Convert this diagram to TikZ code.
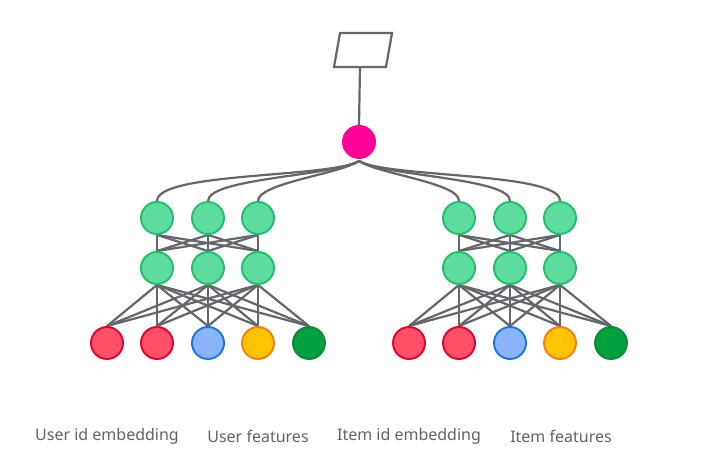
\documentclass[tikz,border=0pt]{standalone}
\usepackage{fontspec}
\setmainfont{Noto Sans}
\usetikzlibrary{backgrounds}
\definecolor{lgray}{HTML}{63666A}
\definecolor{tgray}{HTML}{5F6368}
\definecolor{gfill}{HTML}{5EDB9E}
\definecolor{gdraw}{HTML}{1DBF6A}
\definecolor{rfill}{HTML}{FF5068}
\definecolor{rdraw}{HTML}{E0002B}
\definecolor{bfill}{HTML}{8AB4F8}
\definecolor{bdraw}{HTML}{1A73E8}
\definecolor{yfill}{HTML}{FFC400}
\definecolor{ydraw}{HTML}{FA7B17}
\definecolor{dfill}{HTML}{00A03E}
\definecolor{ddraw}{HTML}{0B8A3A}
\definecolor{mag}{HTML}{FF0099}
\tikzset{
  neuron/.style={circle, minimum size=32pt, inner sep=0pt, line width=1.9pt},
  hid/.style={neuron, fill=gfill, draw=gdraw},
  inred/.style={neuron, fill=rfill, draw=rdraw},
  inblue/.style={neuron, fill=bfill, draw=bdraw},
  inyel/.style={neuron, fill=yfill, draw=ydraw},
  indark/.style={neuron, fill=dfill, draw=ddraw},
  conn/.style={draw=lgray, line width=2.2pt},
  lab/.style={text=tgray, font=\fontsize{16}{19}\selectfont, inner sep=0pt}
}
\begin{document}
\begin{tikzpicture}[x=1pt,y=-1pt]
\useasboundingbox (0,0) rectangle (714,462);
% output parallelogram
\draw[conn, line join=miter] (340,33) -- (392,33) -- (386,67) -- (334,67) -- cycle;
\coordinate (outp) at (360,67);
% magenta
\node[circle, minimum size=34pt, inner sep=0pt, fill=mag] (top) at (359,142) {};
\coordinate (conv) at (359,161);
\draw[conn] (outp) -- (top.north);
% towers
\foreach \t/\o in {L/0, R/302}{
  \foreach \i/\x in {1/157, 2/208, 3/258}{
    \node[hid] (\t a\i) at (\x+\o,218) {};
    \node[hid] (\t b\i) at (\x+\o,268) {};
  }
  \node[inred]  (\t c1) at (107+\o,343) {};
  \node[inred]  (\t c2) at (157+\o,343) {};
  \node[inblue] (\t c3) at (208+\o,343) {};
  \node[inyel]  (\t c4) at (258+\o,343) {};
  \node[indark] (\t c5) at (309+\o,343) {};
}
\begin{scope}[on background layer]
\foreach \t in {L,R}{
  \foreach \i in {1,2,3}{
    \foreach \j in {1,2,3}{
      \draw[conn] (\t a\i.south) -- (\t b\j.north);
    }
    \foreach \j in {1,...,5}{
      \draw[conn] (\t b\i.south) -- (\t c\j.north);
    }
  }
}
% curves to magenta
\draw[conn] (La1.north) .. controls (157,172) and (330,178) .. (conv);
\draw[conn] (La2.north) .. controls (208,178) and (335,176) .. (conv);
\draw[conn] (La3.north) .. controls (258,183) and (340,174) .. (conv);
\draw[conn] (Ra1.north) .. controls (460,183) and (378,174) .. (conv);
\draw[conn] (Ra2.north) .. controls (511,178) and (383,176) .. (conv);
\draw[conn] (Ra3.north) .. controls (561,172) and (388,178) .. (conv);
\end{scope}
% labels
\node[lab] (l1) at (107,436) {User id embedding};
\node[lab] (l2) at (258,436) {User features};
\node[lab] (l3) at (409,436) {Item id embedding};
\node[lab] (l4) at (561,436) {Item features};
\end{tikzpicture}
\end{document}
